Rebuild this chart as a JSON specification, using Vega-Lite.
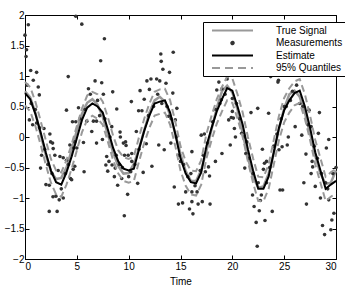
{
  "$schema": "https://vega.github.io/schema/vega-lite/v6.json",
  "width": 311,
  "height": 244,
  "autosize": {"type": "none"},
  "padding": {"left": 25, "top": 15, "right": 9, "bottom": 33},
  "config": {
    "view": {"stroke": "black", "strokeWidth": 1},
    "axis": {
      "labelFont": "Liberation Sans", "titleFont": "Liberation Sans",
      "labelFontSize": 10, "titleFontSize": 10, "titleFontWeight": "normal",
      "domainColor": "black", "tickColor": "black", "labelColor": "black", "titleColor": "black",
      "grid": false, "tickSize": -4, "tickWidth": 1, "domainWidth": 1
    }
  },
  "datasets": {
    "signal": [
      {"t":0,"v":0.75},{"t":0.5,"v":0.65},{"t":1,"v":0.40},{"t":1.5,"v":0.05},{"t":2,"v":-0.29},{"t":2.5,"v":-0.56},{"t":3,"v":-0.69},{"t":3.5,"v":-0.67},{"t":4,"v":-0.50},{"t":4.5,"v":-0.22},{"t":5,"v":0.11},{"t":5.5,"v":0.38},{"t":6,"v":0.56},{"t":6.5,"v":0.62},{"t":7,"v":0.53},{"t":7.5,"v":0.33},{"t":8,"v":0.04},{"t":8.5,"v":-0.25},{"t":9,"v":-0.48},{"t":9.5,"v":-0.60},{"t":10,"v":-0.59},{"t":10.5,"v":-0.44},{"t":11,"v":-0.19},{"t":11.5,"v":0.11},{"t":12,"v":0.40},{"t":12.5,"v":0.60},{"t":13,"v":0.66},{"t":13.5,"v":0.58},{"t":14,"v":0.36},{"t":14.5,"v":0.05},{"t":15,"v":-0.28},{"t":15.5,"v":-0.56},{"t":16,"v":-0.72},{"t":16.5,"v":-0.72},{"t":17,"v":-0.54},{"t":17.5,"v":-0.23},{"t":18,"v":0.13},{"t":18.5,"v":0.48},{"t":19,"v":0.75},{"t":19.5,"v":0.84},{"t":20,"v":0.73},{"t":20.5,"v":0.45},{"t":21,"v":0.06},{"t":21.5,"v":-0.34},{"t":22,"v":-0.66},{"t":22.5,"v":-0.83},{"t":23,"v":-0.81},{"t":23.5,"v":-0.60},{"t":24,"v":-0.26},{"t":24.5,"v":0.14},{"t":25,"v":0.47},{"t":25.5,"v":0.70},{"t":26,"v":0.76},{"t":26.5,"v":0.66},{"t":27,"v":0.40},{"t":27.5,"v":0.06},{"t":28,"v":-0.31},{"t":28.5,"v":-0.60},{"t":29,"v":-0.77},{"t":29.5,"v":-0.75},{"t":30,"v":-0.55}
    ],
    "meas": [
      {"t":0.0,"v":1.67},{"t":0.1,"v":1.32},{"t":0.15,"v":1.43},{"t":0.32,"v":1.84},{"t":0.42,"v":0.28},{"t":0.55,"v":1.09},{"t":0.74,"v":0.20},{"t":0.8,"v":0.93},{"t":1.12,"v":1.06},{"t":1.12,"v":0.23},{"t":1.28,"v":0.82},{"t":1.38,"v":0.69},{"t":1.5,"v":-0.51},{"t":1.6,"v":-0.30},{"t":1.83,"v":0.14},{"t":2.02,"v":-0.78},{"t":2.34,"v":-0.79},{"t":2.34,"v":-1.22},{"t":2.4,"v":0.05},{"t":2.47,"v":-0.08},{"t":2.66,"v":-0.10},{"t":2.72,"v":-0.19},{"t":2.7,"v":-0.98},{"t":2.88,"v":-0.30},{"t":2.98,"v":-0.97},{"t":3.1,"v":-1.22},{"t":3.3,"v":-1.03},{"t":3.37,"v":-0.32},{"t":3.69,"v":-0.34},{"t":3.69,"v":-1.00},{"t":4.0,"v":0.44},{"t":4.0,"v":-0.38},{"t":4.17,"v":0.99},{"t":4.33,"v":-0.13},{"t":4.39,"v":-0.68},{"t":4.5,"v":-0.70},{"t":4.58,"v":0.25},{"t":4.65,"v":-0.53},{"t":4.7,"v":-0.18},{"t":4.8,"v":-0.08},{"t":4.8,"v":-0.48},{"t":4.9,"v":0.25},{"t":4.9,"v":1.98},{"t":5.0,"v":-0.18},{"t":5.16,"v":0.48},{"t":5.48,"v":1.85},{"t":5.64,"v":-0.09},{"t":5.7,"v":-0.57},{"t":5.96,"v":0.26},{"t":6.12,"v":0.79},{"t":6.44,"v":0.09},{"t":6.6,"v":0.26},{"t":6.76,"v":0.92},{"t":6.9,"v":0.26},{"t":6.9,"v":-0.10},{"t":7.3,"v":1.25},{"t":7.4,"v":0.89},{"t":7.47,"v":-0.04},{"t":7.56,"v":0.70},{"t":7.66,"v":1.61},{"t":7.8,"v":-0.46},{"t":7.88,"v":-0.32},{"t":7.98,"v":-0.56},{"t":8.1,"v":-0.40},{"t":8.37,"v":0.17},{"t":8.4,"v":-0.46},{"t":8.46,"v":0.74},{"t":8.62,"v":-0.65},{"t":8.7,"v":-0.51},{"t":8.85,"v":0.46},{"t":8.94,"v":-0.79},{"t":9.17,"v":0.08},{"t":9.2,"v":0.00},{"t":9.33,"v":-0.68},{"t":9.49,"v":-0.10},{"t":9.58,"v":-1.29},{"t":9.6,"v":-0.30},{"t":9.7,"v":-0.08},{"t":9.75,"v":-0.14},{"t":9.9,"v":-0.94},{"t":9.95,"v":-0.30},{"t":10.2,"v":-0.57},{"t":10.26,"v":0.58},{"t":10.3,"v":-0.27},{"t":10.3,"v":-0.40},{"t":10.74,"v":0.09},{"t":10.87,"v":-0.76},{"t":10.96,"v":0.43},{"t":11.1,"v":0.76},{"t":11.28,"v":0.43},{"t":11.4,"v":-0.58},{"t":11.5,"v":0.62},{"t":11.7,"v":-0.11},{"t":11.76,"v":0.92},{"t":12.0,"v":0.78},{"t":12.15,"v":0.95},{"t":12.24,"v":-0.48},{"t":12.7,"v":0.95},{"t":12.9,"v":-0.13},{"t":13.0,"v":0.92},{"t":13.1,"v":1.36},{"t":13.14,"v":1.24},{"t":13.3,"v":1.11},{"t":13.43,"v":-0.21},{"t":13.6,"v":0.88},{"t":13.85,"v":0.34},{"t":13.94,"v":1.06},{"t":14.07,"v":-0.10},{"t":14.26,"v":0.72},{"t":14.3,"v":1.39},{"t":14.4,"v":-0.82},{"t":14.5,"v":0.28},{"t":14.65,"v":0.47},{"t":14.8,"v":-0.30},{"t":14.8,"v":-1.10},{"t":15.2,"v":-1.08},{"t":15.5,"v":-0.90},{"t":15.87,"v":-1.18},{"t":16.1,"v":-0.24},{"t":16.1,"v":-0.90},{"t":16.1,"v":-1.06},{"t":16.2,"v":-1.26},{"t":16.6,"v":-0.90},{"t":16.7,"v":-1.10},{"t":17.0,"v":0.03},{"t":17.1,"v":-1.06},{"t":17.3,"v":0.05},{"t":17.4,"v":-0.57},{"t":17.7,"v":-0.49},{"t":17.8,"v":-0.64},{"t":17.85,"v":-1.10},{"t":18.37,"v":-0.40},{"t":18.5,"v":0.77},{"t":18.7,"v":0.90},{"t":18.94,"v":0.61},{"t":19.0,"v":0.79},{"t":19.0,"v":-0.27},{"t":19.65,"v":0.28},{"t":19.8,"v":-0.13},{"t":19.9,"v":0.32},{"t":20.0,"v":0.63},{"t":20.0,"v":0.42},{"t":20.1,"v":0.31},{"t":20.2,"v":0.14},{"t":20.3,"v":0.00},{"t":20.9,"v":0.06},{"t":21.2,"v":-0.51},{"t":21.3,"v":-0.27},{"t":21.4,"v":-0.08},{"t":21.8,"v":0.40},{"t":21.95,"v":-0.95},{"t":22.1,"v":-1.14},{"t":22.3,"v":-1.40},{"t":22.4,"v":-1.79},{"t":22.45,"v":0.47},{"t":22.6,"v":-1.21},{"t":22.7,"v":-1.04},{"t":22.9,"v":-0.20},{"t":23.0,"v":-0.53},{"t":23.1,"v":-0.43},{"t":23.15,"v":-1.37},{"t":23.3,"v":-0.40},{"t":23.5,"v":0.39},{"t":23.7,"v":0.99},{"t":23.85,"v":-1.22},{"t":24.4,"v":0.90},{"t":24.45,"v":0.93},{"t":24.5,"v":-0.21},{"t":24.6,"v":-0.87},{"t":24.8,"v":-0.16},{"t":24.85,"v":-0.87},{"t":25.0,"v":0.50},{"t":25.3,"v":-0.13},{"t":25.4,"v":0.00},{"t":25.6,"v":0.60},{"t":26.06,"v":0.17},{"t":26.7,"v":0.03},{"t":26.9,"v":-0.75},{"t":27.1,"v":-0.28},{"t":27.15,"v":-1.10},{"t":27.4,"v":0.44},{"t":27.6,"v":0.17},{"t":27.6,"v":-0.60},{"t":27.7,"v":-0.40},{"t":27.75,"v":-0.49},{"t":28.0,"v":-0.81},{"t":28.3,"v":0.06},{"t":28.4,"v":0.40},{"t":28.5,"v":-1.00},{"t":28.7,"v":-1.45},{"t":28.9,"v":-1.60},{"t":29.0,"v":-0.75},{"t":29.07,"v":-0.18},{"t":29.3,"v":-0.04},{"t":29.3,"v":-1.03},{"t":29.5,"v":-1.52},{"t":29.6,"v":-1.36},{"t":29.8,"v":-1.25},
      {"t":0.2,"v":0.85},{"t":0.6,"v":0.55},{"t":1.0,"v":0.45},{"t":1.4,"v":0.15},{"t":1.9,"v":-0.2},{"t":2.2,"v":-0.45},{"t":2.6,"v":-0.6},{"t":3.2,"v":-0.55},{"t":3.5,"v":-0.85},{"t":3.9,"v":-0.6},{"t":4.2,"v":-0.45},{"t":5.3,"v":0.3},{"t":5.8,"v":0.45},{"t":6.3,"v":0.7},{"t":7.0,"v":0.6},{"t":7.2,"v":0.35},{"t":7.7,"v":0.3},{"t":8.2,"v":0.0},{"t":8.8,"v":-0.3},{"t":9.1,"v":-0.45},{"t":9.4,"v":-0.5},{"t":10.0,"v":-0.65},{"t":10.6,"v":-0.45},{"t":11.0,"v":-0.2},{"t":11.9,"v":0.35},{"t":12.4,"v":0.5},{"t":12.8,"v":0.7},{"t":13.2,"v":0.55},{"t":13.7,"v":0.5},{"t":14.1,"v":0.3},{"t":14.6,"v":0.0},{"t":15.0,"v":-0.4},{"t":15.3,"v":-0.45},{"t":15.7,"v":-0.65},{"t":16.0,"v":-0.6},{"t":16.4,"v":-0.8},{"t":16.9,"v":-0.55},{"t":17.2,"v":-0.3},{"t":17.6,"v":-0.1},{"t":18.1,"v":0.25},{"t":18.4,"v":0.45},{"t":18.8,"v":0.55},{"t":19.3,"v":0.7},{"t":19.5,"v":0.95},{"t":20.4,"v":0.55},{"t":20.7,"v":0.3},{"t":21.1,"v":0.0},{"t":21.6,"v":-0.35},{"t":22.0,"v":-0.6},{"t":22.5,"v":-0.75},{"t":22.8,"v":-0.95},{"t":23.3,"v":-0.75},{"t":23.6,"v":-0.5},{"t":24.0,"v":-0.15},{"t":24.3,"v":0.05},{"t":24.7,"v":0.3},{"t":25.2,"v":0.5},{"t":25.8,"v":0.75},{"t":26.2,"v":0.85},{"t":26.5,"v":0.55},{"t":26.8,"v":0.5},{"t":27.3,"v":0.2},{"t":27.9,"v":-0.15},{"t":28.2,"v":-0.35},{"t":28.6,"v":-0.6},{"t":29.2,"v":-0.85},{"t":29.7,"v":-0.6},{"t":30.0,"v":-0.5}
    ],
    "est": [
      {"t":0,"v":0.72},{"t":0.5,"v":0.62},{"t":1,"v":0.38},{"t":1.5,"v":0.08},{"t":2,"v":-0.25},{"t":2.5,"v":-0.55},{"t":3,"v":-0.74},{"t":3.5,"v":-0.78},{"t":4,"v":-0.58},{"t":4.5,"v":-0.32},{"t":5,"v":-0.02},{"t":5.5,"v":0.28},{"t":6,"v":0.48},{"t":6.5,"v":0.55},{"t":7,"v":0.50},{"t":7.5,"v":0.40},{"t":8,"v":0.12},{"t":8.5,"v":-0.18},{"t":9,"v":-0.40},{"t":9.5,"v":-0.52},{"t":10,"v":-0.55},{"t":10.5,"v":-0.52},{"t":11,"v":-0.20},{"t":11.5,"v":0.10},{"t":12,"v":0.35},{"t":12.5,"v":0.55},{"t":13,"v":0.58},{"t":13.5,"v":0.60},{"t":14,"v":0.40},{"t":14.5,"v":0.05},{"t":15,"v":-0.35},{"t":15.5,"v":-0.60},{"t":16,"v":-0.74},{"t":16.5,"v":-0.76},{"t":17,"v":-0.58},{"t":17.5,"v":-0.15},{"t":18,"v":0.15},{"t":18.5,"v":0.42},{"t":19,"v":0.62},{"t":19.5,"v":0.80},{"t":20,"v":0.76},{"t":20.5,"v":0.50},{"t":21,"v":0.20},{"t":21.5,"v":-0.20},{"t":22,"v":-0.55},{"t":22.5,"v":-0.85},{"t":23,"v":-0.85},{"t":23.5,"v":-0.65},{"t":24,"v":-0.25},{"t":24.5,"v":0.15},{"t":25,"v":0.44},{"t":25.5,"v":0.60},{"t":26,"v":0.72},{"t":26.5,"v":0.76},{"t":27,"v":0.50},{"t":27.5,"v":0.15},{"t":28,"v":-0.25},{"t":28.5,"v":-0.55},{"t":29,"v":-0.85},{"t":29.5,"v":-0.78},{"t":30,"v":-0.72}
    ],
    "quant": [
      {"b":"u","t":0,"v":0.90},{"b":"u","t":0.5,"v":0.82},{"b":"u","t":1,"v":0.58},{"b":"u","t":1.5,"v":0.27},{"b":"u","t":2,"v":-0.05},{"b":"u","t":2.5,"v":-0.36},{"b":"u","t":3,"v":-0.55},{"b":"u","t":3.5,"v":-0.58},{"b":"u","t":4,"v":-0.38},{"b":"u","t":4.5,"v":-0.12},{"b":"u","t":5,"v":0.18},{"b":"u","t":5.5,"v":0.47},{"b":"u","t":6,"v":0.68},{"b":"u","t":6.5,"v":0.74},{"b":"u","t":7,"v":0.70},{"b":"u","t":7.5,"v":0.58},{"b":"u","t":8,"v":0.32},{"b":"u","t":8.5,"v":0.02},{"b":"u","t":9,"v":-0.22},{"b":"u","t":9.5,"v":-0.33},{"b":"u","t":10,"v":-0.36},{"b":"u","t":10.5,"v":-0.32},{"b":"u","t":11,"v":0.00},{"b":"u","t":11.5,"v":0.30},{"b":"u","t":12,"v":0.55},{"b":"u","t":12.5,"v":0.74},{"b":"u","t":13,"v":0.78},{"b":"u","t":13.5,"v":0.79},{"b":"u","t":14,"v":0.60},{"b":"u","t":14.5,"v":0.25},{"b":"u","t":15,"v":-0.15},{"b":"u","t":15.5,"v":-0.40},{"b":"u","t":16,"v":-0.55},{"b":"u","t":16.5,"v":-0.56},{"b":"u","t":17,"v":-0.38},{"b":"u","t":17.5,"v":0.05},{"b":"u","t":18,"v":0.35},{"b":"u","t":18.5,"v":0.62},{"b":"u","t":19,"v":0.82},{"b":"u","t":19.5,"v":0.99},{"b":"u","t":20,"v":0.96},{"b":"u","t":20.5,"v":0.70},{"b":"u","t":21,"v":0.40},{"b":"u","t":21.5,"v":0.00},{"b":"u","t":22,"v":-0.35},{"b":"u","t":22.5,"v":-0.65},{"b":"u","t":23,"v":-0.66},{"b":"u","t":23.5,"v":-0.45},{"b":"u","t":24,"v":-0.05},{"b":"u","t":24.5,"v":0.35},{"b":"u","t":25,"v":0.64},{"b":"u","t":25.5,"v":0.80},{"b":"u","t":26,"v":0.91},{"b":"u","t":26.5,"v":0.95},{"b":"u","t":27,"v":0.70},{"b":"u","t":27.5,"v":0.35},{"b":"u","t":28,"v":-0.05},{"b":"u","t":28.5,"v":-0.35},{"b":"u","t":29,"v":-0.65},{"b":"u","t":29.5,"v":-0.58},{"b":"u","t":30,"v":-0.52},
      {"b":"l","t":0,"v":0.52},{"b":"l","t":0.5,"v":0.42},{"b":"l","t":1,"v":0.18},{"b":"l","t":1.5,"v":-0.12},{"b":"l","t":2,"v":-0.45},{"b":"l","t":2.5,"v":-0.75},{"b":"l","t":3,"v":-0.94},{"b":"l","t":3.5,"v":-0.98},{"b":"l","t":4,"v":-0.78},{"b":"l","t":4.5,"v":-0.52},{"b":"l","t":5,"v":-0.22},{"b":"l","t":5.5,"v":0.08},{"b":"l","t":6,"v":0.28},{"b":"l","t":6.5,"v":0.35},{"b":"l","t":7,"v":0.30},{"b":"l","t":7.5,"v":0.20},{"b":"l","t":8,"v":-0.08},{"b":"l","t":8.5,"v":-0.38},{"b":"l","t":9,"v":-0.60},{"b":"l","t":9.5,"v":-0.72},{"b":"l","t":10,"v":-0.75},{"b":"l","t":10.5,"v":-0.72},{"b":"l","t":11,"v":-0.40},{"b":"l","t":11.5,"v":-0.10},{"b":"l","t":12,"v":0.15},{"b":"l","t":12.5,"v":0.35},{"b":"l","t":13,"v":0.38},{"b":"l","t":13.5,"v":0.40},{"b":"l","t":14,"v":0.20},{"b":"l","t":14.5,"v":-0.15},{"b":"l","t":15,"v":-0.55},{"b":"l","t":15.5,"v":-0.80},{"b":"l","t":16,"v":-0.94},{"b":"l","t":16.5,"v":-0.96},{"b":"l","t":17,"v":-0.78},{"b":"l","t":17.5,"v":-0.35},{"b":"l","t":18,"v":-0.05},{"b":"l","t":18.5,"v":0.22},{"b":"l","t":19,"v":0.42},{"b":"l","t":19.5,"v":0.60},{"b":"l","t":20,"v":0.56},{"b":"l","t":20.5,"v":0.30},{"b":"l","t":21,"v":0.00},{"b":"l","t":21.5,"v":-0.40},{"b":"l","t":22,"v":-0.75},{"b":"l","t":22.5,"v":-1.05},{"b":"l","t":23,"v":-1.05},{"b":"l","t":23.5,"v":-0.85},{"b":"l","t":24,"v":-0.45},{"b":"l","t":24.5,"v":-0.05},{"b":"l","t":25,"v":0.24},{"b":"l","t":25.5,"v":0.40},{"b":"l","t":26,"v":0.52},{"b":"l","t":26.5,"v":0.56},{"b":"l","t":27,"v":0.30},{"b":"l","t":27.5,"v":-0.05},{"b":"l","t":28,"v":-0.45},{"b":"l","t":28.5,"v":-0.75},{"b":"l","t":29,"v":-1.05},{"b":"l","t":29.5,"v":-0.98},{"b":"l","t":30,"v":-0.92}
    ]
  },
  "layer": [
    {
      "data": {"name": "signal"},
      "mark": {"type": "line", "strokeWidth": 2.5},
      "encoding": {
        "x": {"field": "t", "type": "quantitative", "scale": {"domain": [0, 30], "nice": false},
              "axis": {"orient": "bottom", "values": [0,5,10,15,20,25,30], "title": "Time", "labelPadding": 6, "titlePadding": 5}},
        "y": {"field": "v", "type": "quantitative", "scale": {"domain": [-2, 2], "nice": false},
              "axis": {"orient": "left", "values": [-2,-1.5,-1,-0.5,0,0.5,1,1.5,2], "format": "~g", "title": null, "labelPadding": 5}},
        "color": {"datum": "True Signal", "type": "nominal",
          "scale": {"domain": ["True Signal", "Measurements", "Estimate", "95% Quantiles"], "range": ["#999999", "#333333", "#000000", "#999999"]},
          "legend": {
            "title": null, "orient": "none", "legendX": 178, "legendY": 7,
            "strokeColor": "black", "fillColor": "white", "padding": 3, "cornerRadius": 0,
            "labelFont": "Liberation Sans", "labelFontSize": 10, "labelColor": "black", "labelLimit": 200,
            "symbolSize": 70, "symbolStrokeWidth": 2, "symbolOffset": 21, "labelOffset": 38, "rowPadding": 1.5,
            "encode": {"symbols": {"update": {
              "shape": {"signal": "datum.value === 'Measurements' ? 'M-0.3,0A0.3,0.3 0 1 0 0.3,0A0.3,0.3 0 1 0 -0.3,0Z' : 'M-4.9,0L4.9,0'"},
              "strokeDash": {"signal": "datum.value === '95% Quantiles' ? [8, 5] : [1, 0]"},
              "fill": {"signal": "datum.value === 'Measurements' ? '#333333' : 'transparent'"},
              "stroke": {"signal": "datum.value === 'Estimate' ? '#000000' : (datum.value === 'Measurements' ? '#333333' : '#999999')"},
              "strokeWidth": {"value": 2},
              "size": {"value": 70},
              "opacity": {"value": 1}
            }}}
          }}
      }
    },
    {
      "data": {"name": "meas"},
      "mark": {"type": "circle", "size": 13, "opacity": 1},
      "encoding": {
        "x": {"field": "t", "type": "quantitative", "axis": null},
        "y": {"field": "v", "type": "quantitative", "axis": null},
        "color": {"datum": "Measurements", "type": "nominal"}
      }
    },
    {
      "data": {"name": "est"},
      "mark": {"type": "line", "strokeWidth": 2},
      "encoding": {
        "x": {"field": "t", "type": "quantitative", "axis": {"orient": "top", "values": [0,5,10,15,20,25,30], "labels": false, "title": null, "domain": false}},
        "y": {"field": "v", "type": "quantitative", "axis": {"orient": "right", "values": [-2,-1.5,-1,-0.5,0,0.5,1,1.5,2], "labels": false, "title": null, "domain": false}},
        "color": {"datum": "Estimate", "type": "nominal"}
      }
    },
    {
      "data": {"name": "quant"},
      "mark": {"type": "line", "strokeWidth": 2, "strokeDash": [7, 4]},
      "encoding": {
        "x": {"field": "t", "type": "quantitative", "axis": null},
        "y": {"field": "v", "type": "quantitative", "axis": null},
        "detail": {"field": "b"},
        "color": {"datum": "95% Quantiles", "type": "nominal"}
      }
    }
  ],
  "resolve": {"axis": {"x": "independent", "y": "independent"}}
}
